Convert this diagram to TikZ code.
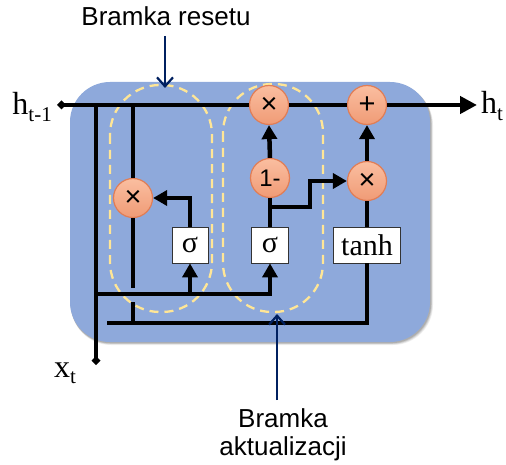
\documentclass[tikz,border=0pt]{standalone}
\usepackage{fontspec}
\setmainfont{Liberation Serif}
\newfontfamily\sansf{Liberation Sans}
\usetikzlibrary{arrows.meta}
\definecolor{cellblue}{RGB}{142,169,219}
\definecolor{opfilltop}{RGB}{250,190,160}
\definecolor{opfillbot}{RGB}{240,155,118}
\definecolor{opdraw}{RGB}{225,125,85}
\definecolor{gateyellow}{RGB}{255,230,150}
\definecolor{navy}{RGB}{0,32,96}
\newcommand\mysub[1]{\raisebox{-0.2em}{\fontsize{21}{21}\selectfont #1}}
\newcommand\bigtimes{{\fontsize{29}{29}\selectfont ×}}
\newcommand\bigplus{{\fontsize{29}{29}\selectfont +}}
\tikzset{
  op/.style={circle, minimum size=39pt, inner sep=0pt, top color=opfilltop, bottom color=opfillbot,
    draw=opdraw, line width=1.2pt, font=\sansf\fontsize{24}{24}\selectfont},
  fn/.style={rectangle, minimum height=36pt, inner sep=2pt, fill=white, draw=black!80, line width=0.8pt,
    font=\fontsize{30}{30}\selectfont},
  wire/.style={line width=4.5pt, black},
  warrow/.style={wire, -{Triangle[length=14pt,width=15pt]}},
  gate/.style={gateyellow, line width=2.3pt, dash pattern=on 9pt off 6pt},
  pointer/.style={navy, line width=2.2pt, -{Straight Barb[length=9pt,width=16pt,line width=2.2pt]}},
  lbl/.style={font=\sansf\fontsize{26}{28}\selectfont, align=center},
  var/.style={font=\fontsize{32}{32}\selectfont, inner sep=0pt}
}
\begin{document}
\begin{tikzpicture}[x=1pt,y=-1pt]
\useasboundingbox (0,0) rectangle (506,465);
% shadow and cell
\foreach \o/\a in {5/0.06,4/0.08,3/0.1,2/0.12}{
  \fill[black,opacity=\a,rounded corners=40pt] (70+\o*0.2,82+\o*0.6) rectangle (430+\o*0.6,342+\o*0.6);
}
\fill[cellblue,rounded corners=40pt] (70,82) rectangle (430,342);
% gates
\draw[gate,rounded corners=50pt] (110,85) rectangle (212,312);
\draw[gate,rounded corners=49pt] (223,84) rectangle (323,312);
% operation nodes
\node[op] (rx) at (133,198) {\bigtimes};
\node[op] (tx) at (269,105) {\bigtimes};
\node[op] (pl) at (367,105) {\bigplus};
\node[op] (om) at (270,178) {1-};
\node[op] (ux) at (367,181) {\bigtimes};
\node[fn, minimum width=36pt] (s1) at (190,245) {σ};
\node[fn, minimum width=37pt] (s2) at (270,245) {σ};
\node[fn, minimum width=67pt] (th) at (367,245) {tanh};
% coordinates
\coordinate (hprev) at (57,105);
\coordinate (hnext) at (477,105);
\coordinate (jx) at (96,105);
\coordinate (jr) at (133,105);
\coordinate (xt) at (96,365);
\coordinate (jlow) at (96,294);
\coordinate (js1) at (190,294);
\coordinate (gapTop) at (133,288);
\coordinate (gapBot) at (133,302);
\coordinate (jbot) at (133,323);
\coordinate (bstart) at (107,323);
\coordinate (br) at (270,207);
\coordinate (bk) at (310,207);
% wires
\draw[wire, {Diamond[length=9pt,width=9pt]}-] (hprev) -- (tx.west);
\draw[wire] (tx.east) -- (pl.west);
\draw[wire, -{Triangle[length=17pt,width=17pt]}] (pl.east) -- (hnext);
\draw[wire, -{Diamond[length=9pt,width=9pt]}] (jx) -- (xt);
\draw[wire] (jr) -- (rx.north);
\draw[wire] (rx.south) -- (gapTop);
\draw[wire] (gapBot) -- (jbot);
\draw[warrow] (jlow) -| (s2.south);
\draw[warrow] (js1) -- (s1.south);
\draw[wire] (bstart) -| (th.south);
\draw[warrow] (s1.north) |- (rx.east);
\draw[wire] (s2.north) -- (om.south);
\draw[warrow] (br) -- (bk) |- (ux.west);
\draw[warrow] (om.north) -- (tx.south);
\draw[warrow] (ux.north) -- (pl.south);
\draw[wire] (th.north) -- (ux.south);
% labels
\node[var, anchor=base east] (lhp) at (52,115) {h\mysub{t-1}};
\node[var, anchor=base west] (lhn) at (481,114) {h\mysub{t}};
\node[var, anchor=base west] (lxt) at (54,377) {x\mysub{t}};
\node[lbl, anchor=base] (lreset) at (166,26) {Bramka resetu};
\node[lbl, anchor=base] (lupd) at (283,455) {Bramka\\aktualizacji};
\coordinate (rtip) at (165,88);
\coordinate (utip) at (277,314);
\draw[pointer] (165,36) -- (rtip);
\draw[pointer] (277,400) -- (utip);
\end{tikzpicture}
\end{document}
